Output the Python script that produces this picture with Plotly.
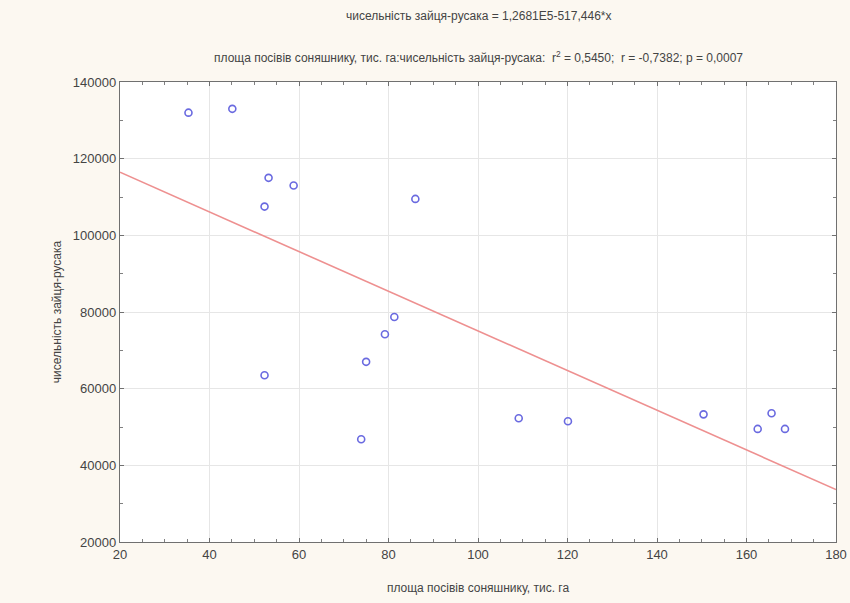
import plotly.graph_objects as go

# Data
sunflower_area = [35.3, 45.1, 53.2, 58.8, 52.3, 86.0, 81.3, 79.2, 75.0, 52.3,
                  73.9, 109.1, 120.1, 150.4, 162.5, 165.6, 168.6]
hare_count = [132000, 133000, 115000, 113000, 107500, 109500, 78700, 74200, 67000, 63500,
              46800, 52300, 51500, 53300, 49500, 53600, 49500]

intercept = 126810.0
slope = -517.446
line_x = [20, 180]
line_y = [intercept + slope * v for v in line_x]

x_ticks = [20, 40, 60, 80, 100, 120, 140, 160, 180]
y_ticks = [20000, 40000, 60000, 80000, 100000, 120000, 140000]

title1 = "чисельність зайця-русака = 1,2681E5-517,446*x"
title2 = ("площа посівів соняшнику, тис. га:чисельність зайця-русака:  "
          "r<sup>2</sup> = 0,5450;  r = -0,7382; p = 0,0007")

FONT = "Liberation Sans, Arial, sans-serif"
TXT = "#444444"

fig = go.Figure()
fig.add_trace(go.Scatter(
    x=line_x, y=line_y, mode="lines",
    line=dict(color="#ee9090", width=1.6), hoverinfo="skip", showlegend=False))
fig.add_trace(go.Scatter(
    x=sunflower_area, y=hare_count, mode="markers",
    marker=dict(symbol="circle-open", size=7, color="#6a6ae0", line=dict(width=1.6)),
    showlegend=False))

axis_common = dict(
    showline=True, linecolor="#707070", linewidth=1.3, mirror="allticks",
    ticks="inside", ticklen=4, tickcolor="#707070",
    showgrid=True, gridcolor="#e6e6e6", gridwidth=1, zeroline=False,
    tickfont=dict(family=FONT, size=13, color=TXT), automargin=False,
)

fig.update_xaxes(
    range=[20, 180], tickvals=x_ticks, ticktext=[str(v) for v in x_ticks],
    minor=dict(dtick=5, ticks="inside", ticklen=3, tickcolor="#808080", showgrid=False),
    title=dict(text="площа посівів соняшнику, тис. га", font=dict(family=FONT, size=12, color=TXT), standoff=22),
    **axis_common)
fig.update_yaxes(
    range=[20000, 140000], tickvals=y_ticks, ticktext=[str(v) for v in y_ticks],
    minor=dict(dtick=10000, ticks="inside", ticklen=3, tickcolor="#808080", showgrid=False),
    title=dict(text="чисельність зайця-русака", font=dict(family=FONT, size=12, color=TXT), standoff=8),
    **axis_common)

fig.add_annotation(text=title1, xref="paper", yref="paper", x=0.5, y=1, yshift=66,
                   showarrow=False, font=dict(family=FONT, size=12, color=TXT), yanchor="middle")
fig.add_annotation(text=title2, xref="paper", yref="paper", x=0.5, y=1, yshift=25,
                   showarrow=False, font=dict(family=FONT, size=12, color=TXT), yanchor="middle")

fig.update_layout(
    width=850, height=603,
    margin=dict(l=120, r=14, t=82, b=61),
    paper_bgcolor="#fcf8f1", plot_bgcolor="#ffffff",
)

fig.write_html("out.html")
